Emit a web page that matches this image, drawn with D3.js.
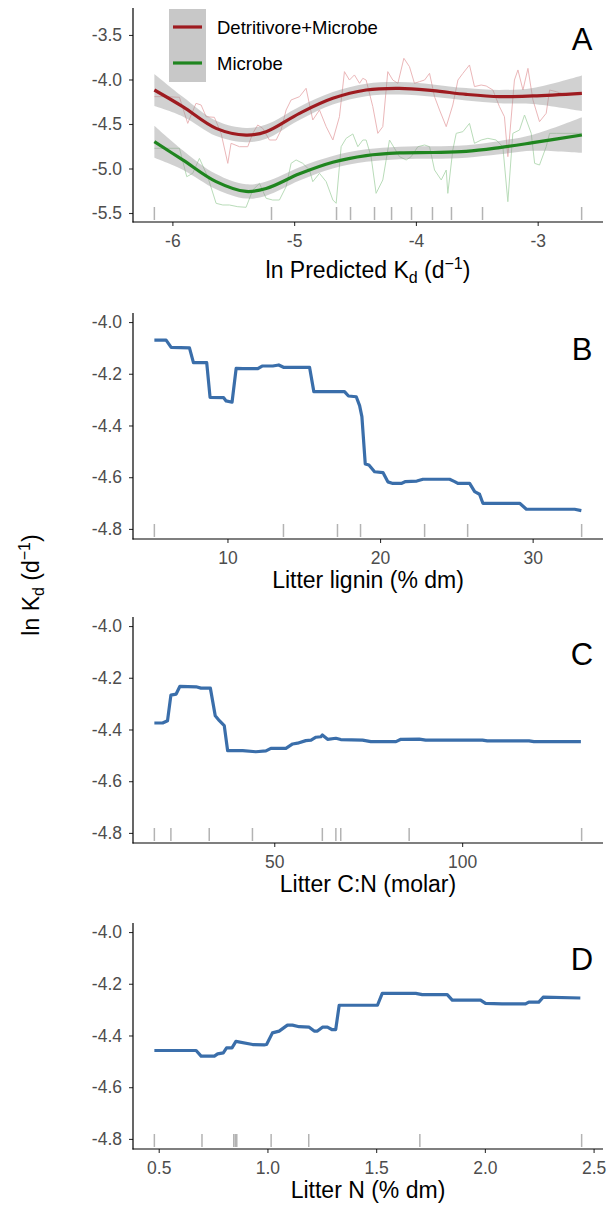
<!DOCTYPE html>
<html>
<head>
<meta charset="utf-8">
<script src="https://cdn.jsdelivr.net/npm/d3@7"></script>
<style>
  body { margin: 0; background: #fff; }
  text { font-family: "Liberation Sans", Arial, sans-serif; }
</style>
</head>
<body>
<div id="chart"></div>
<script>
var svgWidth = 608;
var svgHeight = 1205;

// ---- panel A: smooth fits + raw partial dependence ----
var smoothX = [-6.148, -5.915, -5.641, -5.395, -5.230, -4.956, -4.683, -4.409, -4.135, -3.861, -3.587, -3.313, -3.039, -2.637];
var detFit = [-4.118, -4.305, -4.549, -4.624, -4.586, -4.380, -4.212, -4.118, -4.099, -4.125, -4.167, -4.193, -4.185, -4.155];
var micFit = [-4.699, -4.904, -5.148, -5.258, -5.225, -5.060, -4.930, -4.855, -4.825, -4.820, -4.808, -4.765, -4.710, -4.624];
var fitSe = [0.18, 0.11, 0.085, 0.08, 0.08, 0.075, 0.07, 0.07, 0.07, 0.07, 0.07, 0.075, 0.09, 0.2];

var detRawX = [-6.148, -6.052, -5.942, -5.874, -5.806, -5.764, -5.723, -5.655, -5.600, -5.545, -5.518, -5.449, -5.381, -5.340, -5.299, -5.258, -5.203, -5.148, -5.107, -5.066, -5.025, -4.956, -4.902, -4.847, -4.792, -4.737, -4.682, -4.628, -4.587, -4.546, -4.505, -4.463, -4.436, -4.409, -4.354, -4.313, -4.272, -4.231, -4.190, -4.148, -4.099, -4.053, -4.012, -3.970, -3.929, -3.888, -3.847, -3.806, -3.751, -3.697, -3.655, -3.614, -3.560, -3.519, -3.464, -3.423, -3.368, -3.314, -3.273, -3.245, -3.191, -3.162, -3.121, -3.080, -3.039, -2.985, -2.930, -2.902, -2.848, -2.765, -2.637];
var detRawY = [-4.193, -4.193, -4.200, -4.493, -4.268, -4.287, -4.418, -4.425, -4.605, -4.942, -4.717, -4.755, -4.755, -4.605, -4.511, -4.549, -4.680, -4.680, -4.567, -4.343, -4.230, -4.193, -4.099, -4.455, -4.343, -4.530, -4.680, -4.418, -3.912, -4.006, -3.949, -4.043, -3.987, -4.006, -4.305, -4.605, -4.530, -3.912, -4.006, -4.043, -3.762, -3.856, -4.043, -4.024, -4.006, -3.931, -4.193, -4.343, -4.530, -4.287, -4.006, -3.931, -3.837, -4.080, -4.062, -4.073, -4.118, -4.305, -4.418, -4.867, -4.006, -3.893, -4.118, -3.875, -4.230, -4.474, -4.380, -4.118, -4.137, -4.174, -4.155];

var micRawX = [-6.148, -5.942, -5.882, -5.833, -5.778, -5.710, -5.641, -5.586, -5.532, -5.463, -5.395, -5.340, -5.285, -5.230, -5.176, -5.121, -5.066, -5.025, -4.984, -4.929, -4.874, -4.847, -4.792, -4.737, -4.682, -4.655, -4.614, -4.573, -4.518, -4.477, -4.436, -4.409, -4.368, -4.327, -4.272, -4.217, -4.176, -4.135, -4.080, -4.039, -3.984, -3.929, -3.888, -3.847, -3.792, -3.751, -3.738, -3.697, -3.669, -3.614, -3.560, -3.519, -3.464, -3.409, -3.341, -3.286, -3.245, -3.204, -3.149, -3.108, -3.053, -3.025, -2.985, -2.930, -2.902, -2.848, -2.637];
var micRawY = [-4.773, -4.773, -5.092, -5.054, -4.886, -5.092, -5.391, -5.410, -5.410, -5.429, -5.436, -5.242, -5.167, -5.335, -5.354, -5.354, -5.204, -4.942, -4.904, -4.942, -5.017, -5.148, -5.054, -5.148, -5.354, -5.391, -4.755, -4.661, -4.612, -4.755, -4.680, -4.680, -4.867, -5.279, -5.129, -4.680, -4.773, -4.867, -4.904, -4.867, -4.755, -4.736, -4.755, -5.017, -5.129, -5.017, -5.279, -4.792, -4.605, -4.586, -4.493, -4.717, -4.680, -4.661, -4.680, -4.755, -5.373, -4.605, -4.567, -4.399, -4.605, -4.942, -4.961, -4.755, -4.605, -4.605, -4.605];

var predRug = [-6.148, -5.186, -4.652, -4.537, -4.340, -4.200, -4.036, -3.864, -3.708, -3.453, -2.639];

// ---- panel B: lignin ----
var ligninX = [5.21, 5.98, 6.31, 7.51, 7.77, 8.64, 8.86, 9.74, 9.91, 10.30, 10.57, 11.01, 11.99, 12.27, 12.97, 13.36, 13.67, 15.38, 15.66, 17.67, 17.93, 18.44, 18.66, 18.81, 19.03, 19.27, 19.64, 20.19, 20.51, 20.84, 21.39, 21.67, 22.41, 22.81, 24.56, 24.89, 25.10, 25.87, 26.20, 26.52, 26.74, 29.15, 29.59, 32.75, 33.19];
var ligninY = [-4.070, -4.070, -4.098, -4.100, -4.157, -4.157, -4.291, -4.292, -4.305, -4.310, -4.179, -4.180, -4.180, -4.170, -4.170, -4.166, -4.175, -4.175, -4.269, -4.269, -4.286, -4.289, -4.323, -4.366, -4.549, -4.553, -4.579, -4.582, -4.618, -4.624, -4.624, -4.617, -4.615, -4.608, -4.608, -4.617, -4.624, -4.624, -4.656, -4.666, -4.701, -4.701, -4.724, -4.724, -4.729];
var ligninRug = [5.21, 13.67, 17.21, 18.72, 22.92, 25.74, 33.21];

// ---- panel C: C:N ----
var cnX = [18.1, 20.3, 21.6, 22.5, 23.9, 24.9, 29.2, 30.5, 33.0, 34.3, 35.4, 36.7, 37.6, 41.6, 45.1, 47.8, 49.1, 53.1, 54.9, 56.2, 58.4, 59.8, 61.1, 62.4, 62.8, 64.2, 66.4, 67.7, 73.5, 75.7, 82.4, 83.7, 88.6, 90.3, 105.4, 106.7, 117.8, 119.1, 131.6];
var cnY = [-4.375, -4.375, -4.366, -4.267, -4.263, -4.233, -4.235, -4.240, -4.240, -4.347, -4.366, -4.385, -4.482, -4.482, -4.486, -4.483, -4.473, -4.473, -4.456, -4.453, -4.443, -4.441, -4.430, -4.428, -4.421, -4.438, -4.434, -4.439, -4.441, -4.447, -4.447, -4.438, -4.437, -4.441, -4.441, -4.444, -4.444, -4.447, -4.447];
var cnRug = [18.1, 22.5, 32.7, 44.2, 62.8, 66.4, 67.7, 85.9, 131.8];

// ---- panel D: N ----
var nX = [0.480, 0.672, 0.695, 0.756, 0.771, 0.797, 0.812, 0.837, 0.855, 0.932, 0.985, 0.996, 1.023, 1.054, 1.092, 1.115, 1.146, 1.192, 1.215, 1.230, 1.253, 1.276, 1.296, 1.314, 1.330, 1.506, 1.528, 1.682, 1.712, 1.827, 1.850, 1.980, 2.003, 2.079, 2.187, 2.202, 2.248, 2.268, 2.439];
var nY = [-4.458, -4.458, -4.480, -4.480, -4.471, -4.467, -4.448, -4.448, -4.423, -4.435, -4.436, -4.435, -4.390, -4.383, -4.360, -4.360, -4.366, -4.368, -4.383, -4.383, -4.368, -4.368, -4.377, -4.377, -4.283, -4.283, -4.237, -4.237, -4.242, -4.242, -4.263, -4.263, -4.276, -4.278, -4.278, -4.271, -4.271, -4.252, -4.255];
var nRug = [0.480, 0.699, 0.845, 0.852, 0.859, 1.017, 1.190, 1.701, 2.445];

var yTicksA = [-5.5, -5.0, -4.5, -4.0, -3.5];
var yTicksPD = [-4.8, -4.6, -4.4, -4.2, -4.0];

var plotLeft = 133, plotRight = 603;

var svg = d3.select("#chart")
    .append("svg")
    .attr("width", svgWidth)
    .attr("height", svgHeight);

// ggplot-style 5% padding around the data
function padded(vals) {
    var lo = d3.min(vals), hi = d3.max(vals), r = hi - lo;
    return [lo - 0.05 * r, hi + 0.05 * r];
}

function zip(xs, ys) {
    return xs.map(function (x, i) { return { x: x, y: ys[i] }; });
}

// plain hyphen like R prints
var intFmt = function (d) { return String(d); };
var oneDec = function (d) { return d.toFixed(1); };

function drawAxes(top, bottom, x, y, xTicks, xFmt, yTicks) {
    var g = svg.append("g");
    var bottomAxis = d3.axisBottom(x).tickValues(xTicks).tickFormat(xFmt).tickSize(4).tickPadding(9);
    var leftAxis = d3.axisLeft(y).tickValues(yTicks).tickFormat(oneDec).tickSize(4).tickPadding(7);

    var xa = g.append("g").attr("transform", "translate(0," + bottom + ")").call(bottomAxis);
    var ya = g.append("g").attr("transform", "translate(" + plotLeft + ",0)").call(leftAxis);
    [xa, ya].forEach(function (a) {
        a.select(".domain").remove();
        a.selectAll(".tick line").attr("stroke", "#333").attr("stroke-width", 1.1);
        a.selectAll(".tick text").attr("fill", "#4d4d4d").style("font-size", "17.5px");
    });
    // axis lines (classic theme)
    g.append("line").attr("x1", plotLeft).attr("x2", plotLeft).attr("y1", top).attr("y2", bottom + 0.5)
        .attr("stroke", "black").attr("stroke-width", 1.2);
    g.append("line").attr("x1", plotLeft - 0.5).attr("x2", plotRight).attr("y1", bottom).attr("y2", bottom)
        .attr("stroke", "black").attr("stroke-width", 1.2);
}

function drawRug(vals, x, bottom) {
    svg.append("g").selectAll("line")
        .data(vals)
        .enter()
        .append("line")
        .attr("x1", d => x(d)).attr("x2", d => x(d))
        .attr("y1", bottom - 2).attr("y2", bottom - 15)
        .attr("stroke", "#b3b3b3")
        .attr("stroke-width", 1.5);
}

function panelLetter(txt, yPos) {
    svg.append("text")
        .attr("x", 582).attr("y", yPos)
        .attr("text-anchor", "middle")
        .attr("dominant-baseline", "central")
        .style("font-size", "31px")
        .attr("fill", "black")
        .text(txt);
}

function xTitle(cx, yPos, parts) {
    var t = svg.append("text")
        .attr("x", cx).attr("y", yPos)
        .attr("text-anchor", "middle")
        .style("font-size", "23px")
        .attr("fill", "black");
    parts.forEach(function (p) {
        var s = t.append("tspan").text(p.t);
        if (p.dy) s.attr("dy", p.dy);
        if (p.size) s.style("font-size", p.size);
    });
}

// ================= Panel A =================
(function () {
    var top = 8, bottom = 222;
    var x = d3.scaleLinear().domain(padded(predRug)).range([plotLeft, plotRight]);
    var y = d3.scaleLinear().domain([-5.601, -3.197]).range([bottom, top]);

    var line = d3.line().x(d => x(d.x)).y(d => y(d.y));
    svg.append("path").datum(zip(detRawX, detRawY)).attr("d", line)
        .attr("fill", "none").attr("stroke", "#ebb7b9").attr("stroke-width", 1);
    svg.append("path").datum(zip(micRawX, micRawY)).attr("d", line)
        .attr("fill", "none").attr("stroke", "#b9dcb9").attr("stroke-width", 1);

    var fits = [
        { fit: detFit, color: "#9e1b20" },
        { fit: micFit, color: "#1f851f" }
    ];
    var area = d3.area().curve(d3.curveCatmullRom)
        .x(d => x(d.x)).y0(d => y(d.y - d.se)).y1(d => y(d.y + d.se));
    var smooth = d3.line().curve(d3.curveCatmullRom).x(d => x(d.x)).y(d => y(d.y));
    fits.forEach(function (f) {
        var pts = smoothX.map(function (v, i) { return { x: v, y: f.fit[i], se: fitSe[i] }; });
        svg.append("path").datum(pts).attr("d", area)
            .attr("fill", "#999999").attr("opacity", 0.45);
    });
    fits.forEach(function (f) {
        var pts = smoothX.map(function (v, i) { return { x: v, y: f.fit[i] }; });
        svg.append("path").datum(pts).attr("d", smooth)
            .attr("fill", "none").attr("stroke", f.color).attr("stroke-width", 3.2);
    });

    drawRug(predRug, x, bottom);
    drawAxes(top, bottom, x, y, [-6, -5, -4, -3], intFmt, yTicksA);

    // legend
    var lg = svg.append("g");
    lg.append("rect").attr("x", 169).attr("y", 9).attr("width", 37).attr("height", 73).attr("fill", "#c8c8c8");
    [{ name: "Detritivore+Microbe", color: "#9e1b20", yy: 27 }, { name: "Microbe", color: "#1f851f", yy: 63 }]
        .forEach(function (d) {
            lg.append("line").attr("x1", 173).attr("x2", 202).attr("y1", d.yy).attr("y2", d.yy)
                .attr("stroke", d.color).attr("stroke-width", 3.2);
            lg.append("text").attr("x", 217).attr("y", d.yy).attr("dominant-baseline", "central")
                .style("font-size", "18.5px").attr("fill", "black").text(d.name);
        });

    panelLetter("A", 39);
    xTitle(368, 278, [
        { t: "ln Predicted K" },
        { t: "d", dy: 5, size: "16px" },
        { t: " (d", dy: -5 },
        { t: "\u22121", dy: -9, size: "16px" },
        { t: ")", dy: 9 }
    ]);
})();

// ================= Panels B, C, D =================
var pdPanels = [
    { top: 313, bottom: 539, xs: ligninX, ys: ligninY, rug: ligninRug, ticks: [10, 20, 30], fmt: intFmt, letter: "B", ly: 349, title: "Litter lignin (% dm)" },
    { top: 617, bottom: 843, xs: cnX, ys: cnY, rug: cnRug, ticks: [50, 100], fmt: intFmt, letter: "C", ly: 654, title: "Litter C:N (molar)" },
    { top: 923, bottom: 1149, xs: nX, ys: nY, rug: nRug, ticks: [0.5, 1.0, 1.5, 2.0, 2.5], fmt: oneDec, letter: "D", ly: 959, title: "Litter N (% dm)" }
];

pdPanels.forEach(function (p) {
    var x = d3.scaleLinear().domain(padded(p.rug)).range([plotLeft, plotRight]);
    var y = d3.scaleLinear().domain([-4.839, -3.965]).range([p.bottom, p.top]);

    drawRug(p.rug, x, p.bottom);

    var line = d3.line().x(d => x(d.x)).y(d => y(d.y));
    svg.append("path").datum(zip(p.xs, p.ys)).attr("d", line)
        .attr("fill", "none").attr("stroke", "#3a6eaa").attr("stroke-width", 3.2)
        .attr("stroke-linejoin", "round");

    drawAxes(p.top, p.bottom, x, y, p.ticks, p.fmt, yTicksPD);
    panelLetter(p.letter, p.ly);
    xTitle(368, p.bottom + 49, [{ t: p.title }]);
});

// shared y title
svg.append("g")
    .attr("transform", "translate(39,585) rotate(-90)")
    .append("text")
    .attr("text-anchor", "middle")
    .style("font-size", "23px")
    .attr("fill", "black")
    .call(function (t) {
        t.append("tspan").text("ln K");
        t.append("tspan").text("d").attr("dy", 5).style("font-size", "16px");
        t.append("tspan").text(" (d").attr("dy", -5);
        t.append("tspan").text("\u22121").attr("dy", -9).style("font-size", "16px");
        t.append("tspan").text(")").attr("dy", 9);
    });
</script>
</body>
</html>
